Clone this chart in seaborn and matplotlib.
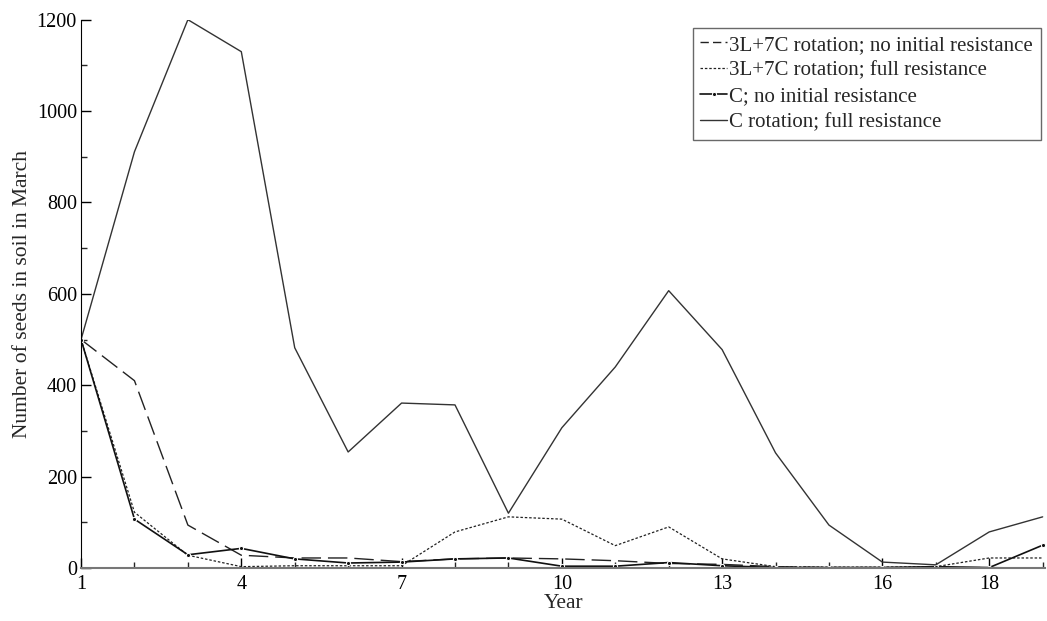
import pandas as pd
import matplotlib
matplotlib.use("Agg")
import matplotlib.pyplot as plt
import seaborn as sns

# ===== data =====
years = list(range(1, 20))
rot_no_res = [500, 410, 94, 28, 22, 22, 14, 20, 22, 20, 16, 10, 8, 3, 1, 1, 1, 1, 0]
rot_full_res = [500, 122, 28, 3, 5, 5, 5, 79, 112, 107, 49, 90, 20, 3, 2, 2, 3, 22, 22]
c_no_res = [500, 107, 29, 43, 20, 11, 13, 20, 22, 4, 4, 12, 5, 1, 1, 1, 3, 1, 50]
c_full_res = [500, 911, 1200, 1130, 482, 254, 361, 357, 120, 307, 440, 607, 478, 252, 94, 13, 7, 79, 112]

labels = ["3L+7C rotation; no initial resistance",
          "3L+7C rotation; full resistance",
          "C; no initial resistance",
          "C rotation; full resistance"]

sns.set_style("ticks")
plt.rcParams['font.family'] = ['Liberation Serif', 'DejaVu Serif']
plt.rcParams['font.size'] = 14.5

fig = plt.figure(figsize=(10.47, 6.21), dpi=100)
ax = fig.add_axes([0.0774, 0.0853, 0.921, 0.883])

sns.lineplot(x=years, y=rot_no_res, ax=ax, color="#222222", lw=1.0,
             label=labels[0], linestyle=(0, (14, 5)))
sns.lineplot(x=years, y=rot_full_res, ax=ax, color="#222222", lw=0.9,
             label=labels[1], linestyle=(0, (2, 1.5)))
sns.lineplot(x=years, y=c_no_res, ax=ax, color="#111111", lw=1.2,
             marker="o", markersize=3, label=labels[2])
sns.lineplot(x=years, y=c_full_res, ax=ax, color="#333333", lw=1.0,
             label=labels[3])

ax.set_xlim(1, 19.05)
ax.set_ylim(0, 1200)
ax.set_xticks([1, 4, 7, 10, 13, 16, 18])
ax.set_xticks(years, minor=True)
ax.set_yticks(range(0, 1201, 200))
ax.set_yticks(range(0, 1201, 100), minor=True)
ax.tick_params(direction="in", which="major", length=7, width=1, colors="black",
               labelsize=14.5)
ax.tick_params(direction="in", which="minor", length=4, width=1)
ax.tick_params(axis="x", pad=5)
ax.tick_params(axis="y", pad=3)

ax.set_xlabel("Year", labelpad=0, fontsize=15.5)
ax.set_ylabel("Number of seeds in soil in March", labelpad=3, fontsize=15.5)

sns.despine(ax=ax)
ax.spines["left"].set_color("black")
ax.spines["bottom"].set_color("#777777")
ax.spines["bottom"].set_linewidth(1.5)

leg = ax.legend(loc="upper right", bbox_to_anchor=(0.995, 0.985), borderaxespad=0,
                frameon=True, fancybox=False, handlelength=1.3, handletextpad=0.1,
                borderpad=0.35, labelspacing=0.3, fontsize=15)
leg.get_frame().set_edgecolor("#444444")
leg.get_frame().set_linewidth(1.0)
# shorter dashes in the legend key so two dashes show
leg.get_lines()[0].set_linestyle((0, (6, 3)))

fig.savefig("out.png", dpi=100)
